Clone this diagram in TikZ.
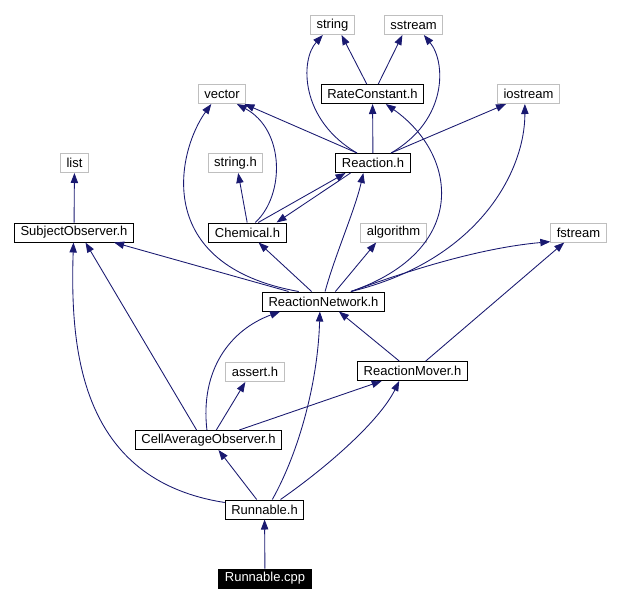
\documentclass[tikz,border=0pt]{standalone}
\usepackage{fontspec}
\setmainfont{Liberation Sans}
\usetikzlibrary{arrows.meta}
\definecolor{edgeblue}{HTML}{191970}
\definecolor{sysgray}{HTML}{BFBFBF}
\begin{document}
\begin{tikzpicture}[
  x=0.75pt,y=-0.75pt,
  box/.style={rectangle,draw,line width=0.75pt,minimum height=14.25pt,inner xsep=4.5pt,inner ysep=0pt,font=\fontsize{9.75}{11}\selectfont},
  hdr/.style={box,draw=black},
  sys/.style={box,draw=sysgray},
  src/.style={box,draw=black,fill=black,text=white},
  dep/.style={-{Triangle[length=7.5pt,width=5.5pt]},color=edgeblue,line width=0.65pt}
]
\useasboundingbox (0,0) rectangle (620,603);
\node[sys] (str) at (332.5,25) {string};
\node[sys] (sstr) at (413.5,25) {sstream};
\node[sys] (vec) at (222,94) {vector};
\node[hdr] (rc) at (372.5,94) {RateConstant.h};
\node[sys] (ios) at (528.5,94) {iostream};
\node[sys] (lst) at (74.5,163) {list};
\node[sys] (strh) at (235.5,163) {string.h};
\node[hdr] (rea) at (373,163) {Reaction.h};
\node[hdr] (subj) at (74,232.5) {SubjectObserver.h};
\node[hdr] (chem) at (247.5,232.5) {Chemical.h};
\node[sys] (alg) at (393.5,232.5) {algorithm};
\node[sys] (fstr) at (578.5,232.5) {fstream};
\node[hdr] (rnet) at (323.5,301.5) {ReactionNetwork.h};
\node[sys] (asrt) at (255,372) {assert.h};
\node[hdr] (rmov) at (412.5,371) {ReactionMover.h};
\node[hdr] (cell) at (208.5,440) {CellAverageObserver.h};
\node[hdr] (runh) at (264.5,509.5) {Runnable.h};
\node[src] (runc) at (265,578.5) {Runnable.cpp};
\draw[dep] (rc.120) -- (str.312);
\draw[dep] (rc.60) -- (sstr.222);
\draw[dep] (rea.148) .. controls (300,120) and (300,60) .. (str.226);
\draw[dep] (rea.29) .. controls (448,120) and (446,62) .. (sstr.316);
\draw[dep] (rea.148) -- (vec.336);
\draw[dep] (rea) -- (rc);
\draw[dep] (rea.29) -- (ios.204);
\draw[dep] (chem.92) -- (strh.285);
\draw[dep] (chem.52) .. controls (285,195) and (285,130) .. (vec.326);
\draw[dep] (chem.43) -- (rea.200);
\draw[dep] (rea.204) -- (chem.19);
\draw[dep] (subj) -- (lst);
\draw[dep] (rnet.158) .. controls (150,265) and (178,150) .. (vec.223);
\draw[dep] (rnet.164) -- (subj.346);
\draw[dep] (rnet.140) -- (chem.318);
\draw[dep] (rnet.81) .. controls (335,255) and (355,210) .. (rea.226);
\draw[dep] (rnet.40) -- (alg.210);
\draw[dep] (rnet.20) .. controls (470,250) and (458,155) .. (rc.323);
\draw[dep] (rnet.20) .. controls (480,260) and (525,170) .. (ios.250);
\draw[dep] (rnet.20) .. controls (410,270) and (480,248) .. (fstr.198);
\draw[dep] (rmov.143) -- (rnet.327);
\draw[dep] (rmov.37) -- (fstr.215);
\draw[dep] (cell.140) -- (subj.319);
\draw[dep] (cell.99) .. controls (200,370) and (230,330) .. (rnet.193);
\draw[dep] (cell.52) -- (asrt.226);
\draw[dep] (cell.18) -- (rmov.198);
\draw[dep] (runh.170) .. controls (80,480) and (70,350) .. (subj.267);
\draw[dep] (runh.128) -- (cell.315);
\draw[dep] (runh.52) .. controls (300,450) and (318,380) .. (rnet.250);
\draw[dep] (runh.32) .. controls (330,465) and (380,420) .. (rmov.217);
\draw[dep] (runc) -- (runh);
\end{tikzpicture}
\end{document}
